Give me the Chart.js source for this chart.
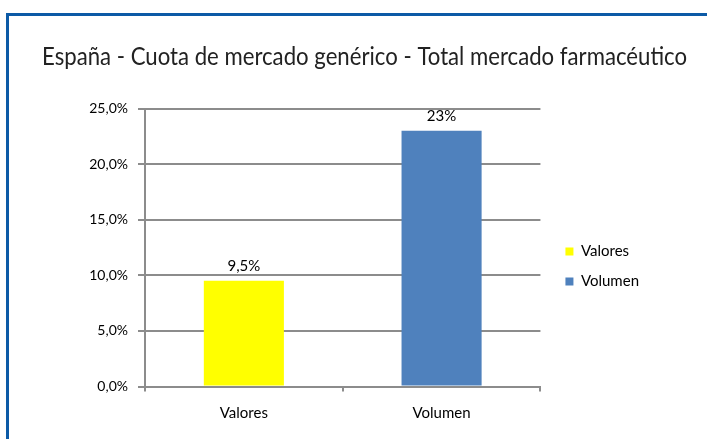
<!DOCTYPE html>
<html>
<head>
<meta charset="utf-8">
<script src="https://cdn.jsdelivr.net/npm/chart.js@4.4.1/dist/chart.umd.min.js"></script>
<style>
    html, body { margin: 0; padding: 0; background: #fff; }
    #marco {
        position: absolute; left: 6px; top: 13px; width: 701px; height: 426px;
        border-top: 3px solid #0c5aa6; border-left: 3px solid #0c5aa6;
        box-sizing: border-box;
    }
    #wrap { position: absolute; left: 0; top: 0; width: 707px; height: 439px; }
</style>
</head>
<body>
<div id="marco"></div>
<div id="wrap"><canvas id="graficoCuota"></canvas></div>
<script>
// Datos
const categorias = ["Valores", "Volumen"];
const cuotas = [0.095, 0.23];
const etiquetasValor = ["9,5%", "23%"];
const colores = ["#ffff00", "#4f81bd"];
const tituloTexto = "España - Cuota de mercado genérico - Total mercado farmacéutico";

// etiquetas encima de cada barra
const etiquetasBarras = {
    id: "etiquetasBarras",
    afterDatasetsDraw(chart) {
        const ctx = chart.ctx;
        const meta = chart.getDatasetMeta(0);
        ctx.save();
        ctx.font = "15px Lato";
        ctx.fillStyle = "#000";
        ctx.textAlign = "center";
        ctx.textBaseline = "middle";
        meta.data.forEach((bar, i) => {
            ctx.fillText(etiquetasValor[i], bar.x, bar.y - 15);
        });
        ctx.restore();
    }
};

// mover la leyenda como en Excel y dar mas ancho al titulo
const ajustarCajas = {
    id: "ajustarCajas",
    afterLayout(chart) {
        const lg = chart.legend;
        lg.left += 10; lg.right += 10;
        lg.top += 47; lg.bottom += 47;
        chart.titleBlock.right = chart.width - 20;
    }
};

new Chart(document.getElementById("graficoCuota"), {
    type: "bar",
    data: {
        labels: categorias,
        datasets: [{
            label: "Cuota",
            data: cuotas,
            backgroundColor: colores,
            borderWidth: 0,
            categoryPercentage: 1,
            barPercentage: 0.405
        }]
    },
    options: {
        responsive: true,
        maintainAspectRatio: false,
        animation: false,
        layout: { padding: { left: 42, right: 68, top: 0, bottom: 0 } },
        plugins: {
            title: {
                display: true,
                text: tituloTexto,
                align: "start",
                color: "#222",
                font: { family: "Lato", size: 25, weight: "normal" },
                padding: { top: 42, bottom: 36.5 }
            },
            legend: {
                position: "right",
                labels: {
                    boxWidth: 8,
                    boxHeight: 8,
                    padding: 15,
                    color: "#000",
                    font: { family: "Lato", size: 15 },
                    generateLabels(chart) {
                        return chart.data.labels.map((l, i) => ({
                            text: l,
                            fillStyle: colores[i],
                            strokeStyle: colores[i],
                            lineWidth: 0,
                            index: i
                        }));
                    }
                }
            },
            tooltip: { enabled: false }
        },
        scales: {
            x: {
                offset: true,
                grid: {
                    display: true,
                    offset: true,
                    drawOnChartArea: false,
                    drawTicks: true,
                    tickLength: 5,
                    color: "#8c8c8c",
                    lineWidth: 2
                },
                border: { display: true, color: "#8c8c8c", width: 2 },
                ticks: {
                    color: "#000",
                    padding: 13,
                    font: { family: "Lato", size: 15 }
                },
                afterFit(scale) { scale.height = 52.5; }
            },
            y: {
                min: 0,
                max: 0.25,
                ticks: {
                    stepSize: 0.05,
                    color: "#000",
                    padding: 10,
                    font: { family: "Lato", size: 14 },
                    callback: v => (v * 100).toFixed(1).replace(".", ",") + "%"
                },
                grid: { color: "#8c8c8c", lineWidth: 2, tickLength: 7 },
                border: { display: true, color: "#8c8c8c", width: 2 },
                afterFit(scale) { scale.width = 103; }
            }
        }
    },
    plugins: [etiquetasBarras, ajustarCajas]
});
</script>
</body>
</html>
